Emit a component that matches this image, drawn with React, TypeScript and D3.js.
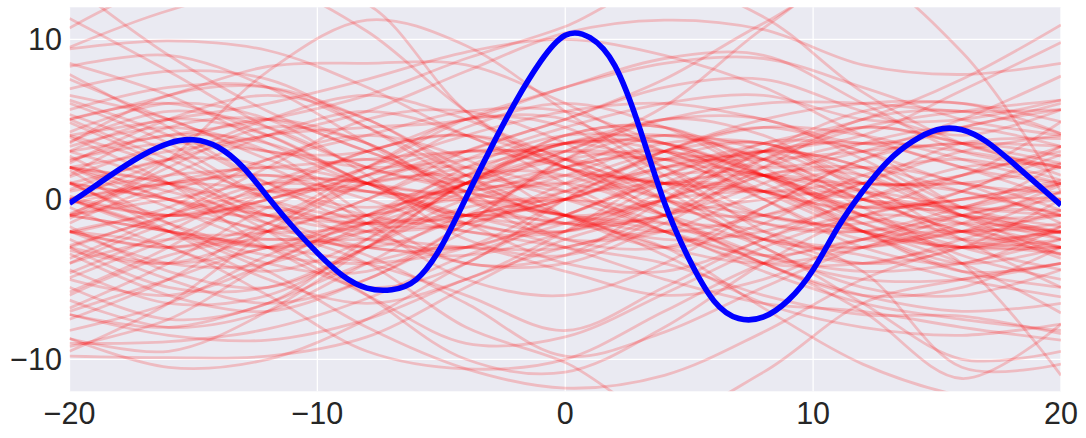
import React from "react";
import * as d3 from "d3";

// sample grid shared by every red draw
const sampleX = [-20, -16, -12, -8, -4, 0, 4, 8, 12, 16, 20];

// draws that stand out near the top of the frame
const upperSamples = [
  [9.5, 11.8, 13.2, 12.2, 5.5, 2, 1, 0.5, 1, 0.5, -1],
  [9.4, 9.9, 9.3, 7.0, 4.0, 2.0, 1.0, 0.5, -1, -2, -1.5],
  [-1, 2.5, 8.0, 11.2, 9.6, 5.5, 1.5, -1.5, -2, -0.5, 1],
  [3, 4, 5, 6.5, 8.8, 10.8, 13.5, 11.4, 6.7, 3.5, 2],
  [11.3, 8.0, 4.5, 2.0, 0.5, -1, -2, -1, 1, 3, 4],
  [10.7, 13.5, 13.5, 10.5, 5.5, 2, 0, -1, -2, -3, -2],
  [13.5, 9, 5.5, 3, 1, -1, -3, -4, -3, -1, 0],
  [5, 6.5, 8.3, 8.5, 8.4, 6, 3, 1.5, 1, 1, 2],
  [2, 3, 4, 5.5, 8.0, 10.4, 11.2, 10.6, 8.4, 7.8, 8.5],
  [-2, -3, -2, 0, 3, 5, 7.5, 11.0, 13.8, 9.2, 0.5],
  [-1, 0, 1, 0.5, -1, 0, 2, 3.5, 5, 7.5, 10.9],
  [2, 1, -0.5, -1.5, -1, 0.5, 2, 3, 4, 6.8, 9.8],
  [-3, -4, -3, -1, 1, 3, 5.8, 10.7, 14.5, 14, 12.5],
  [1, 2.5, 4, 4.5, 5, 7, 8.5, 8.8, 7, 5, 4],
  [0, -1, 0, 2, 5, 7, 8.8, 9.0, 6, 3, 2],
  [4, 5, 6, 7.5, 9.2, 10, 9, 7, 4, 2, 1],
];

// draws that stand out near the bottom of the frame
const lowerSamples = [
  [-9.8, -9.9, -9.8, -8.6, -5.5, -2.5, -1, 0, 0.5, -0.5, -1],
  [-9.0, -8.9, -8.1, -6.2, -3.5, -1.5, 0, 0.5, 0, -1, -2],
  [-7.2, -8.5, -8.8, -7.5, -5, -3, -2, -2.5, -3, -2, -1],
  [-2, -3, -6, -9.5, -10.6, -10.0, -7, -4, -2.5, -2, -3],
  [0, -2, -4.5, -8, -10.6, -11.8, -11, -8.3, -5, -3, -2],
  [3, 1, -2, -6, -10, -10.8, -8, -4, -1, 0, 1],
  [-2, -1, -2, -4, -8, -10.2, -13.5, -10.8, -6.5, -5, -4],
  [1, 0, -1, -1.5, -1, -1.5, -3, -6.8, -10.3, -12.3, -13],
  [-1, -2, -3, -2, -1, 0, -1, -3, -6.5, -10, -9.5],
  [0, 1, 1.5, 1, 0, -1, -1.5, -2, -4.5, -10.5, -10.3],
  [2, 1, -1, -2, -1.5, 0, 1.5, 1.5, -1, -4, -11],
  [-4, -2.5, -3, -6, -9, -8.6, -5.9, -3, -1, 0, 0],
  [-1, -2, -3, -4, -6, -8.2, -5.5, -2.5, -1, -1.5, -3],
  [1, 0, -1.5, -3.5, -6.5, -9.8, -8.3, -5.5, -3, -2, -2],
  [0, 1, 0.5, -1, -2, -3, -4, -6, -7.2, -7.3, -8.4],
  [2, 0.5, -1, -1, 0, -1, -2, -4, -7, -11.2, -7.8],
  [-8.7, -10.5, -10, -7.5, -4, -1, 1, 1.5, 0, -2, -3],
];

// the dense middle band
const middleSamples = [
  [5.3, 3, 0, -1, 1, 4, 4.5, 2, -1.5, -3, -1.7],
  [4.2, 6, 5, 1.5, -2.5, -3.5, -1, 2.5, 4.5, 3.5, 2.25],
  [3.9, 1, -3, -5.5, -4, 0, 3, 4.5, 3, 1, 0.4],
  [3.3, 4.5, 3, -1, -4, -3.5, 0, 3.5, 3, -0.5, -2.1],
  [2.7, 0, -1, 2, 5, 4.5, 1, -2.5, -4, -2.5, -0.7],
  [2.25, 5, 6.5, 5, 1.5, -1.5, -1, 2, 5, 5.5, 4.1],
  [1.8, -1.5, -4, -4.5, -1.5, 2.5, 5, 4, 1, 1.5, 3.3],
  [1.4, 3.5, 5, 3.5, 0.5, 0, 2.5, 3.5, 0.5, -2.5, -3.0],
  [1.1, -2, -5, -6.5, -5, -2, 1.5, 3, 1, 1.5, 4.85],
  [0.6, 2.5, 2, -1.5, -5, -6, -4, -0.5, 2.5, 4.5, 5.6],
  [-0.5, -3, -4.5, -2.5, 1, 4, 4.5, 1.5, -2, -4.5, -4.0],
  [-0.9, 1.5, 4, 5.5, 4, 1, -2, -4, -4, -3, -3.4],
  [-1.7, -4.5, -5.5, -3, 1, 2.5, 0.5, -3, -5.5, -6, -4.4],
  [-2.1, -0.5, 2.5, 4, 2.5, -1, -3, -1.5, 1.5, 2.5, 1.2],
  [-2.5, -5, -6.5, -5, -1.5, 2.5, 4, 2.5, -0.5, -3.5, -5.0],
  [-2.9, -1, 1, 1, -1.5, -4, -4.5, -2.5, 0, 1, -0.7],
  [-3.4, -6, -7, -5, -2, 1, 3, 3.5, 1, -2.5, -5.5],
  [-3.7, -1, 2, 5, 5.5, 3.5, 0, -2.5, -3.5, -5, -6.1],
  [-4.4, -6.5, -6, -3, 0, 1, -1, -4, -6, -7, -6.5],
  [-4.9, -2.5, 0, 1, 2, 3.5, 5, 5, 2.5, -0.5, -1.7],
  [-5.5, -7.5, -6.5, -2.5, 1.5, 3.5, 2, -1, -2, -4, -7.1],
  [-5.8, -3, 0.5, 3, 4, 2.5, -1, -4, -6, -5.5, -3.0],
  [-6.3, -8, -7, -4, -1, -1, -3.5, -6.5, -8, -8.5, -7.8],
  [-6.8, -4, -0.5, 1.5, 2, 0.5, -2, -3.5, -2.5, -1, -2.5],
  [-7.2, -8, -6.5, -4, -3, -4.5, -6, -5, -2.5, -1.5, -2.1],
  [-7.5, -5, -1.5, 1, 1.5, 0, -2, -4.5, -6.5, -7.5, -8.2],
  [-8.2, -6.5, -3.5, -1, 1, 2.5, 3, 1.5, -1, -3, -4.4],
  [-8.7, -9.5, -7, -3, 1, 3.5, 4, 2.5, 0, -2, -3.4],
  [-9.2, -7.5, -4, -1.5, -1.5, -3, -5, -6.5, -7, -8, -8.8],
  [-9.5, -6.5, -2, 1.5, 3, 2, 0, -1.5, -2, -1, 0.4],
  [8.5, 6.5, 3.5, 1, 0.5, 2, 4, 3, 0, -0.5, 2.25],
  [8.3, 9, 7, 3.5, 0, -1.5, -1, 1, 3.5, 4.5, 3.3],
  [7.5, 5, 3, 3, 5, 5, 2, -2, -4, -3, 0],
  [6.9, 8, 7.5, 4.5, 1, -1, 0, 3, 5.5, 6, 4.1],
  [6.2, 4, 1, -0.5, 1, 3.5, 3, 0, -3, -4, -1.7],
  [5.6, 7, 7, 4.5, 1.5, -1, -2.5, -2, 0, 2, 2.2],
  [5.0, 2.5, 0.5, 1.5, 4.5, 6, 4.5, 1.5, -0.5, 0.5, 3.3],
  [0, 2.5, 5, 6.5, 5, 2.5, 1, 2.5, 4.5, 5.5, 6.2],
  [2, 0, -2, -1.5, 0.5, 3, 5, 6, 6, 5.5, 5.6],
  [-1, 0.5, 2.5, 4, 5.5, 5.5, 3.5, 2, 3, 5, 7.7],
  [3, 5, 4, 1, -1, 0, 2, 1.5, -0.5, 0, 1.2],
  [1, -1.5, -3, -2, 1, 3.5, 3.5, 1.5, 0, -0.5, -0.7],
  [4, 2, -1, -3, -3, -1, 1, 0.5, -2, -4, -3.0],
  [-2, -4, -4, -1.5, 2, 4, 3.5, 0.5, -2, -3, -2.5],
  [0.5, 1.5, 2, 2.5, 3, 3, 2.5, 2.5, 3, 3.5, 3.3],
  [-3, -1, 0.5, 0.5, 0, 1.5, 3.5, 3.5, 1.5, -1, -1],
  [6, 3.5, 0, -2.5, -3, -1, 1.5, 3, 2, -1, -2.1],
  [-5, -6, -4, -1, 1.5, 1.5, -1, -3.5, -5, -5, -4.0],
  [2.5, 3.5, 3, 2, 2.5, 3.5, 3.5, 1.5, -1, -2.5, -2],
  [-1.5, 1, 2, 1, -1, -2, 0, 3, 4.5, 3.5, 1.5],
  [7.8, 4.5, 1, -1.5, -1.5, 0.5, 3, 4.5, 4, 2.5, 1],
  [-6, -3.5, -2.5, -3, -3.5, -2, 1, 3, 2, -1, -3.5],
  [3.5, 6.5, 7, 5, 2, 0.5, 1, 0.5, -1.5, -3, -3],
  [-4, -1.5, -0.5, -2, -4, -4, -1.5, 1.5, 1.5, -1, -2.5],
  [0, -2, -3.5, -4, -3, 0, 3, 5, 6, 6, 4.85],
  [1.5, 4.5, 5, 3, 1, 1, 2.5, 2.5, 0.5, -0.5, 1],
  [-3, -5.5, -5.5, -3, -0.5, 0, -1.5, -3.5, -4.5, -4, -2.5],
  [5, 6, 4, 1, -1, -1.5, 0, 2, 3.5, 3, 2],
  [-7, -5, -3, -2.5, -3, -3, -1, 1.5, 2, 0.5, -1],
  [2, -0.5, -2.5, -1.5, 1.5, 3, 2.5, 0.5, -0.5, 1.5, 3],
  [0, -2, -2, 0, 2.5, 4.5, 6, 6.5, 5, 5, 6.2],
  [-2, -3, -1.5, 1, 3, 5, 7, 7.5, 5.5, 4, 5.6],
  [1, -1, 0, 2, 4, 5.5, 6, 5, 3.5, 4.5, 6],
  [4.8, 2, -1.5, -3, -1, 2, 2.5, 0, -2.5, -2, 0.5],
  [-1.2, 2, 4.5, 3.5, 0, -2.5, -2, 0.5, 2, 1, -1.5],
  [3.6, 5.5, 4.5, 2, 1, 2, 3, 1, -2, -4.5, -5.5],
  [-4.6, -2, 1, 2.5, 0.5, -2.5, -3, -0.5, 2.5, 3.5, 2.7],
  [0.2, -1, 0.5, 3, 4, 2, -0.5, -1, 1, 3.5, 3.8],
  [-3.2, -4, -2, 1, 3, 2.5, 0, -2.5, -3, -1.5, 0.9],
  [2.4, 4, 3.5, 1, -1.5, -2, 0, 1.5, 0.5, -1.5, -3.7],
  [6.5, 5, 2.5, 0.5, 0.5, 1.5, 1, -1, -1.5, 0.5, 2.8],
  [-0.3, 1, 1.5, 0, -2, -2, 0.5, 3, 3.5, 2, 0],
];

// blue mean curve at every unit of x
const meanX = [
  -20, -19, -18, -17, -16, -15, -14, -13, -12, -11, -10, -9, -8, -7, -6, -5, -4, -3, -2, -1, 0,
  1, 2, 3, 4, 5, 6, 7, 8, 9, 10, 11, 12, 13, 14, 15, 16, 17, 18, 19, 20,
];
const meanY = [
  -0.25, 0.8, 1.85, 2.8, 3.5, 3.72, 3.25, 2.0, 0.15, -1.7, -3.35, -4.75, -5.55, -5.65, -5.0, -2.95, 0.1, 3.2, 6.1, 8.6, 10.25,
  10.1, 8.35, 4.45, -0.2, -3.75, -6.35, -7.45, -7.35, -6.3, -4.4, -1.75, 0.5, 2.35, 3.6, 4.35, 4.35, 3.6, 2.35, 1.0, -0.36,
];

const xTicks = [-20, -10, 0, 10, 20];
const yTicks = [-10, 0, 10];

const W = 1086;
const H = 438;
const left = 69.5;
const right = 1061;
const top = 7.3;
const bottom = 391.3;

const fmt = (v: number) => (v < 0 ? "\u2212" : "") + Math.abs(v);

export default function App() {
  const x = d3.scaleLinear().domain([-20, 20]).range([left, right]);
  const y = d3.scaleLinear().domain([-12, 12]).range([bottom, top]);

  const redLine = d3
    .line<number>()
    .x((d, i) => x(sampleX[i]))
    .y(d => y(d))
    .curve(d3.curveCatmullRom);

  const blueLine = d3
    .line<number>()
    .x((d, i) => x(meanX[i]))
    .y(d => y(d))
    .curve(d3.curveNatural);

  const samples = [...middleSamples, ...upperSamples, ...lowerSamples];

  return (
    <svg
      width={W}
      height={H}
      style={{ position: "absolute", left: 0, top: 0, display: "block" }}
      fontFamily="'Liberation Sans', Arial, sans-serif"
    >
      <defs>
        <clipPath id="plot">
          <rect x={left} y={top} width={right - left} height={bottom - top} />
        </clipPath>
      </defs>
      <rect width={W} height={H} fill="#ffffff" />
      <rect x={left} y={top} width={right - left} height={bottom - top} fill="#eaeaf2" />
      {xTicks.map(t => (
        <line key={"gx" + t} x1={x(t)} x2={x(t)} y1={top} y2={bottom} stroke="#ffffff" strokeWidth={1.3} />
      ))}
      {yTicks.map(t => (
        <line key={"gy" + t} x1={left} x2={right} y1={y(t)} y2={y(t)} stroke="#ffffff" strokeWidth={1.3} />
      ))}
      <g clipPath="url(#plot)">
        {samples.map((s, i) => (
          <path
            key={i}
            d={redLine(s) || ""}
            fill="none"
            stroke="#ff0000"
            strokeOpacity={0.2}
            strokeWidth={2.8}
          />
        ))}
        <path d={blueLine(meanY) || ""} fill="none" stroke="#0000ff" strokeWidth={5.6} />
      </g>
      {xTicks.map(t => (
        <text key={"tx" + t} x={x(t)} y={423.5} textAnchor="middle" fontSize={30.5} fill="#262626">
          {fmt(t)}
        </text>
      ))}
      {yTicks.map(t => (
        <text key={"ty" + t} x={62} y={y(t) + 11} textAnchor="end" fontSize={30.5} fill="#262626">
          {fmt(t)}
        </text>
      ))}
    </svg>
  );
}
